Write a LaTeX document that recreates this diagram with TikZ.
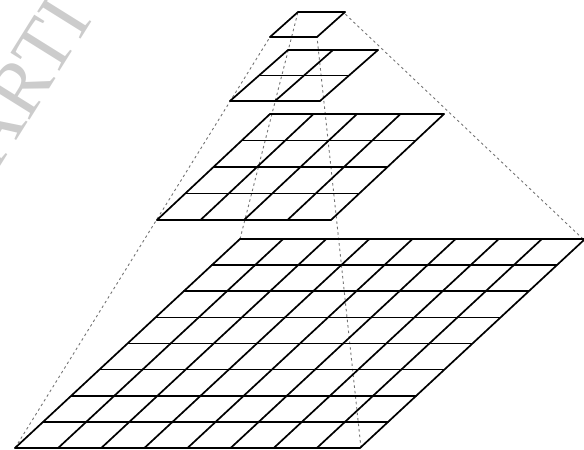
\documentclass[tikz,border=0pt]{standalone}
\usepackage{fontspec}
\newfontfamily\wmfont{Liberation Serif}
\usetikzlibrary{calc}
\tikzset{
  gridline/.style={line width=1.7pt, black, line cap=round},
  pyredge/.style={line width=0.9pt, black!55, dash pattern=on 2.5pt off 3pt},
  watermark/.style={text=black!20, font=\wmfont\fontsize{78}{78}\selectfont, inner sep=0pt}
}
% #1,#2 bottom-left corner; #3 width; #4 skew; #5 height; #6 cells
\newcommand\pyrgrid[6]{%
  \foreach \i in {0,...,#6}{%
    \draw[gridline] ({#1+#4*\i/#6},{#2-#5*\i/#6}) -- ++(#3,0);
    \draw[gridline] ({#1+#3*\i/#6},#2) -- ++(#4,-#5);
  }}
\begin{document}
\begin{tikzpicture}[x=1pt,y=-1pt]
  \useasboundingbox (0,0) rectangle (584,450);
  \begin{scope}
    \clip (0,0) rectangle (584,450);
    \node[watermark, rotate=58] (wm) at (24,81) {ARTI};
  \end{scope}
  % pyramid corner coordinates
  \coordinate (bigBL) at (15,448);
  \coordinate (bigBR) at (361,448);
  \coordinate (bigTL) at (240,239);
  \coordinate (bigTR) at (583,239);
  \coordinate (topBL) at (270,37);
  \coordinate (topBR) at (317,37);
  \coordinate (topTL) at (298,12);
  \coordinate (topTR) at (343,12);
  % pyramid edges
  \draw[pyredge] (bigBL) -- (topBL);
  \draw[pyredge] (bigBR) -- (topBR);
  \draw[pyredge] (bigTL) -- (topTL);
  \draw[pyredge] (bigTR) -- (topTR);
  % grids
  \pyrgrid{15}{448}{345}{225}{209}{8}
  \pyrgrid{157}{220}{174}{113}{106}{4}
  \pyrgrid{230}{101}{90}{58}{51}{2}
  \pyrgrid{270}{37}{47}{28}{25}{1}
\end{tikzpicture}
\end{document}
